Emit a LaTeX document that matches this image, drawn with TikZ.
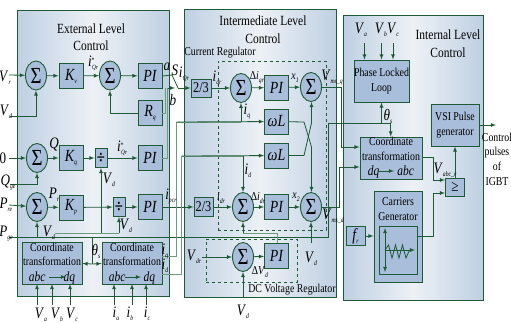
\documentclass[tikz,border=0pt]{standalone}
\usepackage{fontspec}
\setmainfont[FakeStretch=0.82]{Liberation Serif}
\usetikzlibrary{shapes.geometric}
\definecolor{wiredk}{HTML}{1F5A36}
\definecolor{wirelt}{HTML}{6E9A80}
\definecolor{boxfill}{HTML}{A9BEDA}
\definecolor{panelsd}{HTML}{BFD0E2}
\definecolor{panelmd}{HTML}{EDF1F6}
\newcommand{\sbs}[2]{\textit{#1}\raisebox{-3pt}{\fontsize{7}{7}\selectfont\textit{#2}}}
\newcommand{\sbp}[2]{\textit{#1}\raisebox{4pt}{\fontsize{7}{7}\selectfont *}\kern-2.5pt\raisebox{-3pt}{\fontsize{6.5}{7}\selectfont\textit{#2}}}
\tikzset{
  panel/.style={draw=wiredk,line width=.9pt,left color=panelsd,right color=panelsd,middle color=panelmd,inner sep=0pt},
  blockbox/.style={draw=wiredk,fill=boxfill,line width=.9pt,inner sep=0pt,minimum width=24,minimum height=25,font=\fontsize{17}{17}\selectfont\itshape},
  textbox/.style={blockbox,align=center,font=\fontsize{12}{14.5}\selectfont},
  sumnode/.style={ellipse,draw=wiredk,fill=boxfill,line width=.9pt,inner sep=0pt,minimum width=21,minimum height=29,font=\fontsize{23}{23}\selectfont},
  lab/.style={inner sep=0pt,font=\fontsize{16}{16}\selectfont},
  smalllab/.style={inner sep=0pt,font=\fontsize{12}{12}\selectfont},
  title/.style={inner sep=0pt,align=center,font=\fontsize{14}{17.5}\selectfont},
  wire/.style={draw=wiredk,line width=.8pt,-latex},
  wireplain/.style={draw=wiredk,line width=.8pt},
  wirelight/.style={draw=wirelt,line width=1pt},
  regbox/.style={draw=wiredk,dashed,line width=.7pt}
}
\begin{document}
\begin{tikzpicture}[x=1pt,y=-1pt]
\useasboundingbox (0,0) rectangle (511,322);
\node[panel,minimum width=152,minimum height=286] (extPanel) at (93,153) {};
\node[panel,minimum width=152,minimum height=288] (midPanel) at (260,153) {};
\node[panel,minimum width=140,minimum height=285] (intPanel) at (413,157.5) {};
\node[title] (extTitle) at (91,37) {External Level\\Control};
\node[title] (midTitle) at (263,29.5) {Intermediate Level\\Control};
\node[title] (intTitle) at (448,43.5) {Internal Level\\Control};
\node[regbox,minimum width=108,minimum height=169] (curBox) at (272,145.5) {};
\node[regbox,minimum width=91,minimum height=43] (dcBox) at (251.5,260.5) {};
\node[inner sep=0pt,font=\fontsize{12}{12}\selectfont] (curLab) at (220,53) {Current Regulator};
\node[inner sep=0pt,font=\fontsize{12}{12}\selectfont] (dcLab) at (292,290) {DC Voltage Regulator};

\node[sumnode] (sumV) at (36,75.5) {Σ};
\node[blockbox] (kv) at (71,76) {\sbs{K}{v}};
\node[sumnode] (sumI) at (110,75.5) {Σ};
\node[blockbox] (piV) at (150,76) {PI};
\node[blockbox] (rq) at (150,113) {\sbs{R}{q}};
\node[sumnode] (sumQ) at (37,158) {Σ};
\node[blockbox] (kq) at (71,158) {\sbs{K}{q}};
\node[blockbox,minimum width=12,minimum height=19,font=\fontsize{18}{18}\selectfont\bfseries] (divQ) at (101,158) {÷};
\node[blockbox] (piQ) at (150,158) {PI};
\node[sumnode] (sumP) at (37,207) {Σ};
\node[blockbox] (kp) at (71,207.5) {\sbs{K}{p}};
\node[blockbox,minimum width=12,minimum height=19,font=\fontsize{18}{18}\selectfont\bfseries] (divP) at (119,207) {÷};
\node[blockbox] (piP) at (150,207) {PI};
\node[textbox,minimum width=60,minimum height=41] (abcA) at (52,263.5) {Coordinate\\transformation\\[1pt]{\fontsize{14}{14}\selectfont\textit{abc}\kern18pt\textit{dq}}};
\node[textbox,minimum width=60,minimum height=41] (abcB) at (132,263.5) {Coordinate\\transformation\\[1pt]{\fontsize{14}{14}\selectfont\textit{abc}\kern18pt\textit{dq}}};

\node[blockbox,minimum width=20,minimum height=18,font=\fontsize{15}{15}\selectfont] (twoQ) at (201,88) {2/3};
\node[sumnode] (sumQa) at (241,88) {Σ};
\node[blockbox] (piQa) at (276.5,87.5) {PI};
\node[sumnode] (sumQb) at (311,87) {Σ};
\node[blockbox] (wlA) at (276.5,121.5) {\textit{ω}\textit{L}};
\node[blockbox] (wlB) at (276.5,155.5) {\textit{ω}\textit{L}};
\node[blockbox,minimum width=19,minimum height=19,font=\fontsize{15}{15}\selectfont] (twoD) at (203.5,207) {2/3};
\node[sumnode] (sumDa) at (243,207) {Σ};
\node[blockbox] (piDa) at (276.5,207) {PI};
\node[sumnode] (sumDb) at (311,207) {Σ};
\node[sumnode] (sumDc) at (243,257) {Σ};
\node[blockbox] (piDc) at (276.5,256) {PI};

\node[textbox,minimum width=53,minimum height=42] (pll) at (381.5,81) {Phase Locked\\Loop};
\node[textbox,minimum width=48,minimum height=42] (vsi) at (455,125) {VSI Pulse\\generator};
\node[textbox,minimum width=62,minimum height=42] (abcC) at (391,158) {Coordinate\\transformation\\[1pt]{\fontsize{14}{14}\selectfont\textit{dq}\kern18pt\textit{abc}}};
\node[blockbox,minimum width=19,minimum height=18,font=\fontsize{16}{16}\selectfont] (cmp) at (455,187) {≥};
\node[blockbox,minimum width=48,minimum height=91] (carr) at (398,236.5) {};
\node[inner sep=0pt,align=center,font=\fontsize{12}{15}\selectfont] (carrT) at (398,209) {Carriers\\Generator};
\node[draw=wiredk,line width=.9pt,inner sep=0pt,minimum width=38,minimum height=48] (wave) at (398,250) {};
\node[blockbox,minimum width=19,minimum height=19] (fr) at (355.5,236) {\sbs{f}{r}};

\foreach \n/\p in {inVr/{9,75},inVd/{10,116},inZero/{9,158},inQg/{10,184},inPr/{9,205},thEnd/{9,237},
  thA/{92.5,237},thM/{92.5,264},vdL/{55,233},vdA/{101,233},vdB/{119,233},
  swA/{172,75},swB/{178,88},swC/{175,88},xQ/{167.5,88},xR/{165.5,88},
  iqU/{176.5,122},idU/{181.7,156},brQ/{241,122},brD/{243,156},
  crA/{304,122},crB/{311.5,147},crC/{304,155.5},crD/{311.5,123},
  vmsQa/{341,87},vmsQb/{341,147},vmsDa/{339,207},vmsDb/{339,167},
  thC/{328,237},thD/{328,123},thP/{381.5,123},thQ/{390.7,123},
  vdS/{311,243},vdB2/{243,298},vdrS/{202,257},dcU/{277,233},dcV/{243,233},
  outCtl/{496,125},coutA/{433,157.5},coutB/{433,180},wvA/{433,236},wvB/{433,193},
  vaA/{37,305},vbA/{52,305},vcA/{70,305},iaA/{114,305},ibA/{132,305},icA/{146,305},
  vaB/{364.5,43},vbB/{381.5,43},vcB/{393,43},
  axT/{385,228},axB/{385,272},axL/{385,250},axR/{415,250},
  arrA/{49,277},arrB/{66,277},arrC/{125,277},arrD/{141,277},arrE/{378,171},arrF/{394,171}}
  \coordinate (\n) at (\p);

\draw[wire] (inVr) -- (sumV);
\draw[wire] (inVd) -| (sumV.south);
\draw[wire] (sumV) -- (kv);
\draw[wire] (kv) -- (sumI);
\draw[wire] (sumI) -- (piV);
\draw[wire] (rq.west) -| (sumI.south);
\draw[wireplain] (piV.east) -- (swA) -- (swB);
\draw[wire] (swB) -- (twoQ.west);
\draw[wirelight] (rq.east) -| (xR);
\draw[wirelight] (piQ.east) -| (xQ);
\draw[wire] (xQ) -- (swC);
\draw[wire] (inZero) -- (sumQ);
\draw[wire] (inQg) -| (sumQ.south);
\draw[wire] (sumQ) -- (kq);
\draw[wire] (kq) -- (divQ);
\draw[wire] (divQ) -- (piQ);
\draw[wire] (inPr) -- (sumP);
\draw[wire] (sumP) -- (kp);
\draw[wire] (kp) -- (divP);
\draw[wire] (divP) -- (piP);
\draw[wire] (piP) -- (twoD);
\draw[wireplain] (thEnd) -- (thC) -- (thD) -- (thQ);
\draw[wire] (thEnd -| sumP) -- (sumP.south);
\draw[wireplain] (thA) -- (thM);
\draw[wire] (thM) -- (abcA.east);
\draw[wire] (thM) -- (abcB.west);
\draw[wirelight] (vdL) -- (vdB);
\draw[wire] (vdB) -- (divP.south);
\draw[wire] (vdA) -- (divQ.south);
\foreach \a/\b in {vaA/37,vbA/52,vcA/70}
  \draw[wire] (\a) -- (\b,284);
\foreach \a/\b in {iaA/114,ibA/132,icA/146}
  \draw[wire] (\a) -- (\b,284);
\foreach \a in {vaB,vbB,vcB}
  \draw[wire] (\a) -- (\a |- pll.north);

\draw[wirelight] (abcB.east |- 0,256) -| (iqU) -- (brQ);
\draw[wirelight] (abcB.east |- 0,274) -| (idU) -- (brD);
\draw[wire] (iqU) -- (wlA);
\draw[wire] (idU) -- (wlB);
\draw[wire] (brQ) -- (sumQa.south);
\draw[wire] (brD) -- (sumDa.north);
\draw[wire] (twoQ) -- (sumQa);
\draw[wire] (sumQa) -- (piQa);
\draw[wire] (piQa) -- (sumQb);
\draw[wire] (twoD) -- (sumDa);
\draw[wire] (sumDa) -- (piDa);
\draw[wire] (piDa) -- (sumDb);
\draw[wireplain] (wlA) -- (crA) -- (crB);
\draw[wire] (crB) -- (crB |- sumDb.north);
\draw[wireplain] (wlB) -- (crC) -- (crD);
\draw[wire] (crD) -- (crD |- sumQb.south);
\draw[wireplain] (sumQb.east) -- (vmsQa) -- (vmsQb);
\draw[wire] (vmsQb) -- (vmsQb -| abcC.west);
\draw[wireplain] (sumDb.east) -- (vmsDa) -- (vmsDb);
\draw[wire] (vmsDb) -- (vmsDb -| abcC.west);
\draw[wire] (vdS) -- (sumDb.south);
\draw[wire] (vdB2) -- (sumDc.south);
\draw[wire] (vdrS) -- (sumDc);
\draw[wire] (sumDc) -- (piDc);
\draw[wirelight] (piDc.north -| dcU) -- (dcU) -- (dcV);
\draw[wire] (dcV) -- (sumDa.south);

\draw[wire] (thP) -- (pll.south);
\draw[wire] (thQ) -- (thQ |- abcC.north);
\draw[wire] (vsi.east) -- (outCtl);
\draw[wireplain] (abcC.east |- coutA) -- (coutA) -- (coutB);
\draw[wire] (coutB) -- (coutB -| cmp.west);
\draw[wireplain] (wave.east |- wvA) -- (wvA) -- (wvB);
\draw[wire] (wvB) -- (wvB -| cmp.west);
\draw[wire] (cmp.north) -- (vsi.south);
\draw[wire] (fr) -- (carr.west |- fr);
\draw[wire,latex-latex] (axT) -- (axB);
\draw[wire] (axL) -- (axR);
\draw[wireplain] (axL) -- ++(3.5,-5) -- ++(3.5,13) -- ++(3.5,-13) -- ++(3.5,13) -- ++(3.5,-13) -- ++(3.5,13) -- ++(3.5,-8);
\draw[wire] (arrA) -- (arrB);
\draw[wire] (arrC) -- (arrD);
\draw[wire] (arrE) -- (arrF);

\node[lab] (lVr) at (5,78) {\sbs{V}{r}};
\node[lab] (lVd) at (6,112) {\sbs{V}{d}};
\node[lab] (lZero) at (3,158) {0};
\node[lab] (lQg) at (8,182) {\sbs{Q}{ge}};
\node[lab] (lPr) at (6,205) {\sbs{P}{re}};
\node[lab] (lPg) at (6,233) {\sbs{P}{ge}};
\node[lab] (lQ) at (54,144) {\textit{Q}};
\node[lab] (lP) at (54,195) {\sbs{P}{r}};
\node[lab] (lVdd) at (49,233) {\sbs{V}{d}};
\node[lab] (lVda) at (109,180) {\sbs{V}{d}};
\node[lab] (lVdb) at (126,226) {\sbs{V}{d}};
\node[lab] (lTh) at (96,251) {\sbs{θ}{s}};
\node[lab] (lIqs) at (93,63) {\sbp{i}{Qr}};
\node[lab] (lIqp) at (122,148) {\sbp{i}{Qr}};
\node[lab] (lIpr) at (171,196) {\sbs{i}{pcr}};
\node[lab] (lA) at (167,67) {\textit{a}};
\node[lab] (lS) at (175,70) {\textit{S}};
\node[lab] (lB) at (173,100) {\textit{b}};
\node[lab] (lIqr) at (184,74) {\sbs{i}{Qr}};
\node[lab] (lIq) at (165,251) {\sbs{i}{q}};
\node[lab] (lId) at (165,266) {\sbs{i}{d}};
\node[lab] (lVa) at (41,315) {\sbs{V}{a}};
\node[lab] (lVb) at (57,315) {\sbs{V}{b}};
\node[lab] (lVc) at (72,315) {\sbs{V}{c}};
\node[lab] (lIa) at (116,314) {\sbs{i}{a}};
\node[lab] (lIb) at (130,314) {\sbs{i}{b}};
\node[lab] (lIc) at (147,314) {\sbs{i}{c}};
\node[lab] (lIqe) at (217,78) {\sbs{i}{qr}};
\node[lab] (lIqa) at (247,111) {\sbs{i}{q}};
\node[lab] (lIda) at (248,171) {\sbs{i}{d}};
\node[smalllab] (lDi) at (257,78) {Δ\sbs{i}{qr}};
\node[smalllab] (lXa) at (295,78) {\sbs{x}{1}};
\node[lab] (lVmq) at (332,78) {\sbs{V}{ms\_q}};
\node[smalllab] (lIde) at (221,198) {\sbs{i}{dr}};
\node[smalllab] (lDid) at (258,198) {Δ\sbs{i}{dr}};
\node[smalllab] (lXb) at (296,197) {\sbs{x}{2}};
\node[lab] (lVmd) at (333,216) {\sbs{V}{ms\_d}};
\node[lab] (lVdr) at (194,257) {\sbs{V}{dr}};
\node[smalllab] (lDv) at (260,272) {Δ\sbs{V}{d}};
\node[lab] (lVdc) at (311,259) {\sbs{V}{d}};
\node[lab] (lVde) at (243,312) {\sbs{V}{d}};
\node[lab] (lVaa) at (361,30) {\sbs{V}{a}};
\node[lab] (lVbb) at (381,30) {\sbs{V}{b}};
\node[lab] (lVcc) at (393,30) {\sbs{V}{c}};
\node[lab] (lThs) at (388,116) {\sbs{θ}{s}};
\node[lab] (lVabc) at (445,170) {\sbs{V}{abc\_r}};
\node[inner sep=0pt,align=center,font=\fontsize{12}{14.7}\selectfont] (lCtl) at (497,159) {Control\\pulses\\of\\IGBT};
\end{tikzpicture}
\end{document}
